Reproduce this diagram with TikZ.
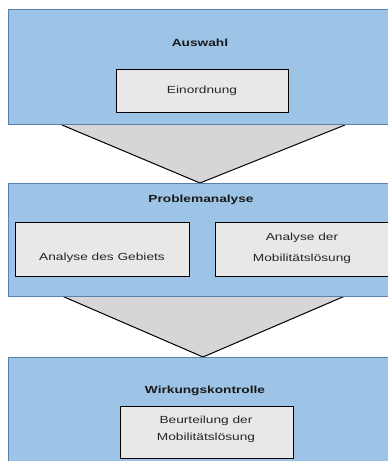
\documentclass[tikz,border=0pt]{standalone}
\usepackage{fontspec}
\setmainfont{Liberation Sans}[FakeStretch=1.33]
\definecolor{outerblue}{HTML}{9DC3E6}
\definecolor{outerline}{HTML}{5B82AD}
\definecolor{innergray}{HTML}{E8E8E8}
\definecolor{trigray}{HTML}{D6D6D6}
\begin{document}
\begin{tikzpicture}[x=1pt,y=-1pt,
  phase/.style={draw=outerline,fill=outerblue,line width=1pt},
  task/.style={draw=black,fill=innergray,line width=0.9pt},
  funnel/.style={draw=black,fill=trigray,line width=1pt},
  lbl/.style={font=\fontsize{10.3}{17}\selectfont,align=center,inner sep=0pt,text=black!85},
  title/.style={font=\fontsize{10.3}{14}\selectfont\bfseries,inner sep=0pt,text=black!90}]
\useasboundingbox (0,0) rectangle (388,461);
\clip (0,0) rectangle (388,461);
% funnels
\coordinate (t1a) at (62,125); \coordinate (t1b) at (345,125); \coordinate (t1c) at (200,183);
\fill[trigray] (t1a) -- (t1c) -- (t1b) -- cycle;
\draw[funnel] (t1a) -- (t1c) -- (t1b);
\coordinate (t2a) at (62,296); \coordinate (t2b) at (345,296); \coordinate (t2c) at (203,357);
\fill[trigray] (t2a) -- (t2c) -- (t2b) -- cycle;
\draw[funnel] (t2a) -- (t2c) -- (t2b);
% phases
\draw[phase] (8,9) rectangle (394,124);
\draw[phase] (8,183) rectangle (394,296);
\draw[phase] (8,357) rectangle (394,466);
% titles
\node[title] (auswahl) at (200,43) {Auswahl};
\node[title] (problem) at (201,200) {Problemanalyse};
\node[title] (wirkung) at (205,391) {Wirkungskontrolle};
% tasks
\draw[task] (116,69) rectangle (288,112);
\node[lbl] (einord) at (202,91) {Einordnung};
\draw[task] (15,222) rectangle (189,276);
\node[lbl] (gebiet) at (102,258) {Analyse des Gebiets};
\draw[task] (215,222) rectangle (394,276);
\node[lbl,font=\fontsize{10.3}{20.5}\selectfont] (mobil) at (302,248.5) {Analyse der\\Mobilitätslösung};
\draw[task] (120,406) rectangle (293,458);
\node[lbl] (beurt) at (206,429) {Beurteilung der\\Mobilitätslösung};
\end{tikzpicture}
\end{document}
